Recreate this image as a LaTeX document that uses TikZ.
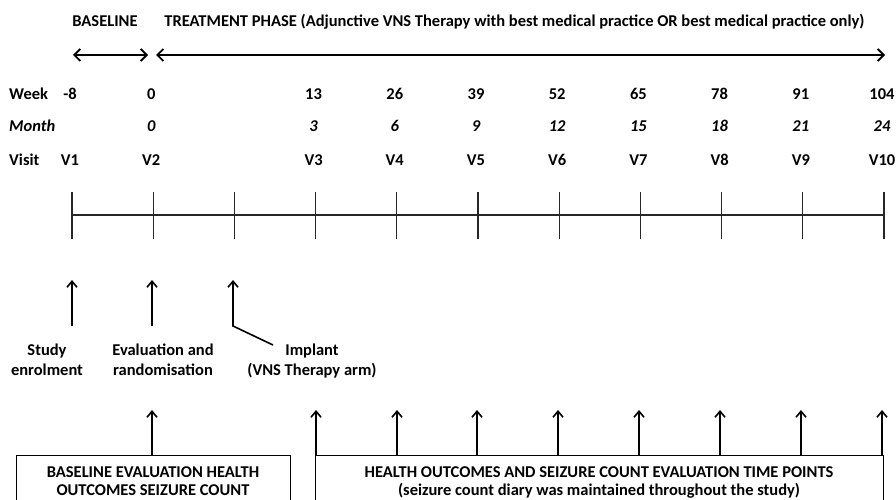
\documentclass[tikz,border=0pt]{standalone}
\usepackage{fontspec}
\setmainfont{Carlito}
\usetikzlibrary{arrows.meta}
\begin{document}
\begin{tikzpicture}[x=1pt,y=-1pt,
  lbl/.style={inner sep=0pt,anchor=base,font=\fontsize{16.5}{20}\selectfont\bfseries},
  mlbl/.style={lbl,font=\fontsize{16.5}{20}\selectfont\bfseries\itshape},
  twoline/.style={lbl,align=center},
  boxtxt/.style={inner sep=0pt,anchor=base,align=center,font=\fontsize{16.5}{17.5}\selectfont\bfseries},
  phase/.style={line width=1.8pt,{Straight Barb[length=6pt,width=12pt,line width=1.8pt]}-{Straight Barb[length=6pt,width=12pt,line width=1.8pt]}},
  up/.style={line width=1.6pt,-{Straight Barb[length=6pt,width=10pt,line width=1.6pt]}},
  tl/.style={line width=1.1pt,draw=black!85},
  evbox/.style={draw,line width=1pt}]
\useasboundingbox (0,0) rectangle (896,500);
\clip (0,0) rectangle (896,500);
% headers
\node[lbl] (base) at (105,26.5) {BASELINE};
\node[lbl] (treat) at (514.5,26.5) {TREATMENT PHASE (Adjunctive VNS Therapy with best medical practice OR best medical practice only)};
\coordinate (b1) at (73,55); \coordinate (b2) at (148,55);
\coordinate (t1) at (156,55); \coordinate (t2) at (885,55);
\draw[phase] (b1) -- (b2);
\draw[phase] (t1) -- (t2);
% row labels
\node[lbl,anchor=base west] (wk) at (9,99.5) {Week};
\node[mlbl,anchor=base west] (mo) at (9,131.5) {Month};
\node[lbl,anchor=base west] (vi) at (9,165.5) {Visit};
\foreach \i/\w/\m/\v in {0/-8//V1,1/0/0/V2,3/13/3/V3,4/26/6/V4,5/39/9/V5,6/52/12/V6,7/65/15/V7,8/78/18/V8,9/91/21/V9,10/104/24/V10}{
  \node[lbl] (w\i) at (70+81.2*\i,99.5) {\w};
  \node[mlbl] (m\i) at (70+81.2*\i,131.5) {\m};
  \node[lbl] (v\i) at (70+81.2*\i,165.5) {\v};
}
% timeline
\coordinate (L0) at (72,215); \coordinate (L10) at (884,215);
\draw[tl] (L0) -- (L10);
\foreach \i in {0,...,10}{
  \coordinate (tk\i) at (72+81.2*\i,192);
  \coordinate (tb\i) at (72+81.2*\i,239);
  \draw[tl] (tk\i) -- (tb\i);
}
% event arrows
\coordinate (s0) at (72,326); \coordinate (s1) at (72,280);
\coordinate (e0) at (152,326); \coordinate (e1) at (152,280);
\coordinate (i0) at (273,345); \coordinate (ib) at (233,326); \coordinate (i1) at (233,280);
\draw[up] (s0) -- (s1);
\draw[up] (e0) -- (e1);
\draw[up] (i0) -- (ib) -- (i1);
\node[twoline] (study) at (47,375) {Study\\enrolment};
\node[twoline] (eval) at (163,375) {Evaluation and\\randomisation};
\node[twoline] (impl) at (312,375) {Implant\\(VNS Therapy arm)};
% boxes
\draw[evbox] (16,512) |- (290,455) -- (290,512);
\draw[evbox] (315,512) |- (883,455) -- (883,512);
\node[boxtxt] (bt) at (153,495) {BASELINE EVALUATION HEALTH\\OUTCOMES SEIZURE COUNT};
\node[boxtxt] (ht) at (599,495) {HEALTH OUTCOMES AND SEIZURE COUNT EVALUATION TIME POINTS\\(seizure count diary was maintained throughout the study)};
\coordinate (ba) at (152,455); \coordinate (bb) at (152,410);
\draw[up] (ba) -- (bb);
\foreach \x in {316,397,477,558,639,720,801,882}{
  \coordinate (ha\x) at (\x,455); \coordinate (hb\x) at (\x,410);
  \draw[up] (ha\x) -- (hb\x);
}
\end{tikzpicture}
\end{document}
